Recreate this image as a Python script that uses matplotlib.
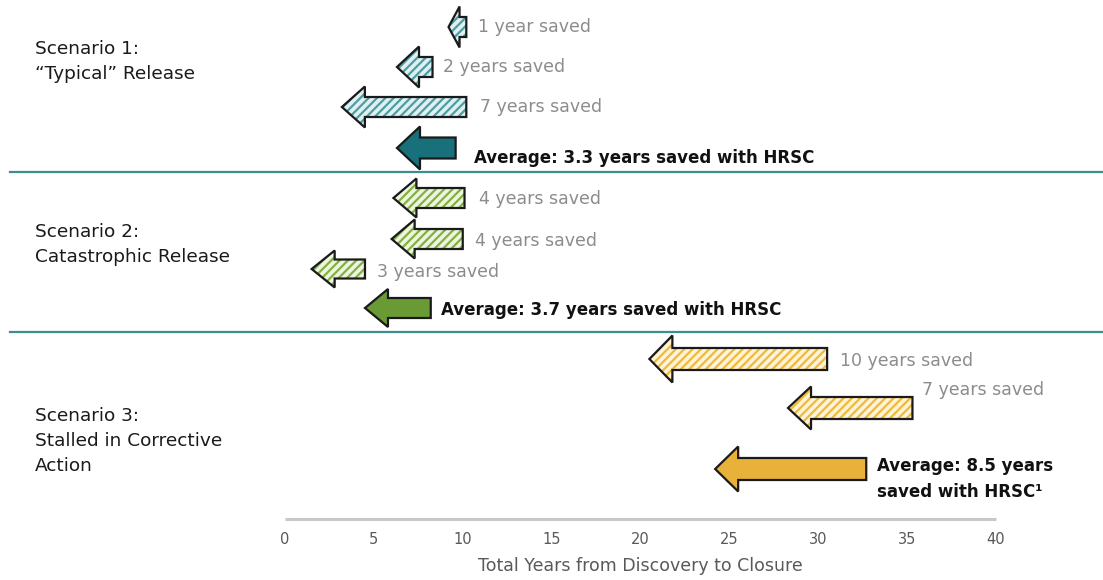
import matplotlib
matplotlib.use("Agg")
import matplotlib.pyplot as plt
from matplotlib.patches import FancyArrow
from matplotlib.lines import Line2D

# ---- data -------------------------------------------------------------
scenario_names = [
    "Scenario 1:\n\u201cTypical\u201d Release",
    "Scenario 2:\nCatastrophic Release",
    "Scenario 3:\nStalled in Corrective\nAction",
]
# years from discovery to closure without HRSC (arrow tail)
s1_start = [10.2, 8.3, 10.2, 9.6]
s2_start = [10.1, 10.0, 4.5, 8.2]
s3_start = [30.5, 35.3, 32.7]
# years saved with HRSC (arrow length)
s1_saved = [1, 2, 7, 3.3]
s2_saved = [4, 4, 3, 3.7]
s3_saved = [10, 7, 8.5]
s1_labels = ["1 year saved", "2 years saved", "7 years saved",
             "Average: 3.3 years saved with HRSC"]
s2_labels = ["4 years saved", "4 years saved", "3 years saved",
             "Average: 3.7 years saved with HRSC"]
s3_labels = ["10 years saved", "7 years saved",
             "Average: 8.5 years\nsaved with HRSC\u00b9"]
x_ticks = [0, 5, 10, 15, 20, 25, 30, 35, 40]
x_label = "Total Years from Discovery to Closure"

# ---- layout / style ---------------------------------------------------
W, H, DPI = 1103, 580, 100
plt.rcParams["font.family"] = ["DejaVu Sans"]
plt.rcParams["hatch.linewidth"] = 1.6

fig = plt.figure(figsize=(W / DPI, H / DPI), dpi=DPI)
ax_left, ax_right, ax_bottom_px = 285, 996, 519
ax = fig.add_axes([ax_left / W, 1 - ax_bottom_px / H,
                   (ax_right - ax_left) / W, ax_bottom_px / H])
ax.set_xlim(0, 40)
ax.set_ylim(ax_bottom_px, 0)  # vertical units: pixels from top
ax.axis("off")

px_per_year = (ax_right - ax_left) / 40.0

styles = {
    "s1": dict(light="#dff0f1", hatch="#4f9ca3", dark="#17707a"),
    "s2": dict(light="#eef5df", hatch="#82b043", dark="#6a9a34"),
    "s3": dict(light="#fff4d8", hatch="#f0b93c", dark="#e8b23a"),
}

groups = [
    # rows (vertical position), body width, head width, label offsets (px)
    dict(key="s1", start=s1_start, saved=s1_saved, labels=s1_labels,
         rows=[27, 67, 107, 148], body=[20, 20, 20, 21], head=[41, 41, 41, 43],
         offs=[(12, 0), (10, 0), (14, 0), (18, -10)]),
    dict(key="s2", start=s2_start, saved=s2_saved, labels=s2_labels,
         rows=[198, 239, 269, 308], body=[20, 20, 19, 20], head=[39, 39, 37, 38],
         offs=[(14, -1), (12, -2), (12, -3), (10, -2)]),
    dict(key="s3", start=s3_start, saved=s3_saved, labels=s3_labels,
         rows=[359, 408, 469], body=[22, 22, 22], head=[47, 43, 45],
         offs=[(13, -2), (10, 18), (11, -10)]),
]

head_len_years = 23 / px_per_year

for g in groups:
    st = styles[g["key"]]
    n = len(g["start"])
    for i in range(n):
        x0 = g["start"][i]
        dx = -g["saved"][i]
        y = g["rows"][i]
        is_avg = i == n - 1
        hl = min(head_len_years, 0.62 * g["saved"][i])
        kw = dict(width=g["body"][i], head_width=g["head"][i],
                  head_length=hl, length_includes_head=True)
        if is_avg:
            ax.add_patch(FancyArrow(x0, y, dx, 0, facecolor=st["dark"],
                                    edgecolor="#1a1a1a", linewidth=1.6,
                                    joinstyle="miter", **kw))
        else:
            ax.add_patch(FancyArrow(x0, y, dx, 0, facecolor=st["light"],
                                    edgecolor=st["hatch"], hatch="////",
                                    linewidth=0, **kw))
            ax.add_patch(FancyArrow(x0, y, dx, 0, facecolor="none",
                                    edgecolor="#1a1a1a", linewidth=1.6,
                                    joinstyle="miter", **kw))
        ox, oy = g["offs"][i]
        if is_avg:
            ax.annotate(g["labels"][i], xy=(x0, y), xytext=(ox, oy),
                        textcoords="offset pixels", ha="left", va="center",
                        fontsize=12, fontweight="bold", color="#111111",
                        linespacing=1.55)
        else:
            ax.annotate(g["labels"][i], xy=(x0, y), xytext=(ox, oy),
                        textcoords="offset pixels", ha="left", va="center",
                        fontsize=12.5, color="#8c8c8c")

# scenario titles
for name, ytop in zip(scenario_names, [50, 233, 417]):
    fig.text(35 / W, 1 - (ytop - 10) / H, name, ha="left", va="top",
             fontsize=13.3, color="#1a1a1a", linespacing=1.5)

# dividers between scenarios
for ypx in [172, 332]:
    fig.add_artist(Line2D([10 / W, 1.0], [1 - ypx / H, 1 - ypx / H],
                          transform=fig.transFigure, color="#3f8c94",
                          linewidth=1.6))

# x axis line, ticks and label
ax.plot([0, 40], [ax_bottom_px, ax_bottom_px], color="#c8c8c8",
        linewidth=2.2, clip_on=False, solid_capstyle="butt")
for t in x_ticks:
    ax.annotate(str(t), xy=(t, ax_bottom_px), xytext=(0, -21),
                textcoords="offset pixels", ha="center", va="center",
                fontsize=10.5, color="#595959", annotation_clip=False)
fig.text((ax_left + ax_right) / 2 / W, 1 - 566 / H, x_label,
         ha="center", va="center", fontsize=12.5, color="#595959")

fig.savefig("out.png", dpi=DPI, facecolor="white")
